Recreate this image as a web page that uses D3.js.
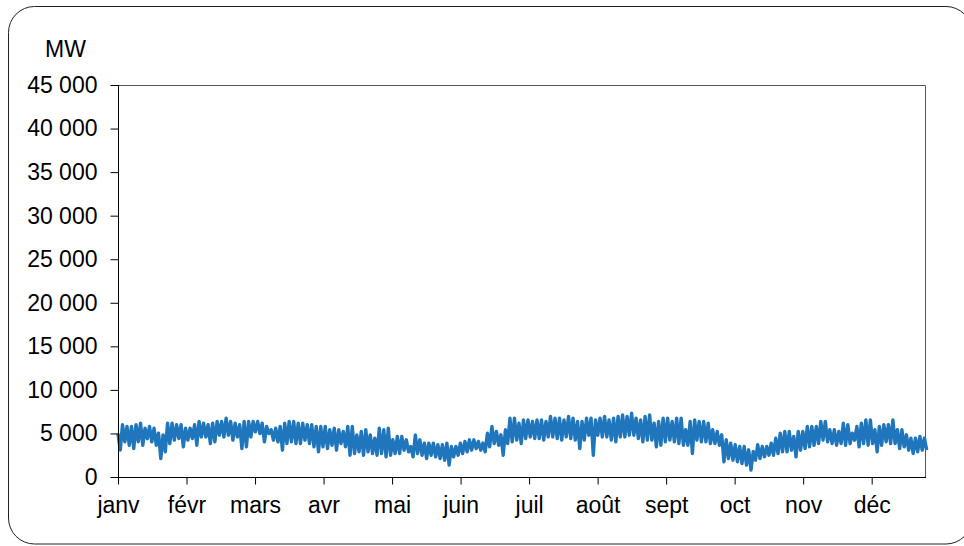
<!DOCTYPE html>
<html>
<head>
<meta charset="utf-8">
<script src="https://cdn.jsdelivr.net/npm/d3@7/dist/d3.min.js"></script>
<style>
  html, body { margin: 0; padding: 0; background: #fff; }
  svg { display: block; }
  text { font-family: "Liberation Sans", Arial, sans-serif; fill: #000; }
</style>
</head>
<body>
<svg id="chart" width="964" height="546"></svg>
<script>
// Month tick labels
const months = ["janv", "févr", "mars", "avr", "mai", "juin", "juil", "août", "sept", "oct", "nov", "déc"];
// Y tick values (MW)
const yTicks = [0, 5000, 10000, 15000, 20000, 25000, 30000, 35000, 40000, 45000];
const unitLabel = "MW";
// Series: upper and lower excursions of the load, one pair every 2 days (MW)
const hiMW = [
  5000, 6000, 5800, 5800, 6000, 6180, 5600, 5800, 5600, 5030, 4840, 6180, 6180, 6000, 6000,
  5600, 5600, 6000, 6370, 6180, 6000, 6180, 6370, 6370, 6750, 6370, 6180, 6000, 6370, 6370,
  6370, 6370, 6180, 5800, 5420, 5600, 5800, 6180, 6370, 6370, 6180, 6180, 6000, 6000, 5800,
  5800, 5800, 5420, 5600, 5420, 5230, 5800, 5800, 4840, 5230, 5420, 4840, 4460, 5600, 5420,
  5600, 4270, 4650, 4650, 4270, 3500, 4840, 4270, 3890, 3890, 3890, 3700, 3700, 3890, 3500,
  3500, 3890, 4080, 4270, 4270, 4080, 3890, 5030, 5800, 5230, 4840, 5420, 6750, 6750, 6180,
  6560, 6560, 6370, 6560, 6560, 6370, 6940, 6750, 6750, 6560, 6940, 6750, 6370, 6370, 6750,
  6750, 6560, 6750, 6940, 6560, 6750, 6940, 7130, 6940, 7330, 6750, 6560, 6940, 7130, 6180,
  6370, 6750, 6750, 6370, 6750, 6750, 5420, 6370, 6560, 6370, 6370, 6180, 5420, 5230, 4840,
  4270, 3890, 3700, 3500, 3500, 3120, 2930, 3700, 3500, 3500, 3890, 4460, 5030, 5230, 5230,
  4650, 5230, 5230, 5800, 5800, 5800, 6370, 6370, 5420, 5420, 5230, 6180, 6000, 5030, 5800,
  6180, 6560, 6560, 5420, 5800, 6000, 6000, 6560, 5420, 5420, 4840, 4460, 4460, 4650, 4460
];
const loMW = [
  3100, 4030, 3650, 3270, 4030, 3650, 4400, 4030, 3650, 2120, 2890, 3840, 4230, 4420, 3460,
  4230, 4420, 3650, 4600, 4600, 3840, 4030, 4800, 4600, 4800, 4230, 4600, 3270, 3460, 4600,
  5180, 4990, 4030, 4990, 4230, 4030, 3080, 3840, 4030, 3840, 3840, 4230, 3840, 3460, 2890,
  3460, 3270, 3650, 3080, 3840, 3460, 2500, 2700, 2890, 2500, 2890, 2700, 2500, 2700, 2310,
  2500, 2700, 2700, 3080, 2890, 2310, 2700, 2500, 2120, 2500, 2310, 2120, 1930, 1360, 2310,
  2500, 2700, 2890, 3080, 3270, 3080, 2890, 3460, 3840, 3650, 2500, 3840, 4030, 4230, 3840,
  4420, 4600, 4420, 4420, 4230, 4600, 4600, 4420, 4230, 4600, 4420, 4230, 3270, 4230, 4800,
  2500, 4800, 4600, 4600, 4230, 4030, 4600, 4600, 4800, 4800, 4420, 4030, 4230, 4230, 3460,
  3650, 4030, 4230, 4030, 3840, 3650, 3650, 2700, 4230, 4030, 4030, 3840, 3840, 3650, 1740,
  2120, 1930, 1740, 1550, 1360, 790, 1930, 2120, 2310, 2500, 2500, 2700, 2890, 2890, 3080,
  2310, 3080, 3270, 3460, 3650, 3840, 4230, 4030, 3840, 3650, 3840, 3650, 3840, 4230, 3460,
  3840, 3650, 3840, 2890, 3650, 4030, 3840, 3840, 3270, 3460, 3080, 2700, 2890, 3080, 3080
];
const daysPerStep = 2;
const daysPerMonth = 365 / 12;
const xEndDays = 358.7;
const FS = 23;

const svg = d3.select("#chart");

// outer rounded frame
svg.append("rect")
  .attr("x", 8.5).attr("y", 6.5)
  .attr("width", 963.5).attr("height", 537.5)
  .attr("rx", 26).attr("ry", 26)
  .attr("fill", "none").attr("stroke", "#222").attr("stroke-width", 1);

const mLeft = 118, mRight = 926, mTop = 85, mBottom = 477;

const x = d3.scaleLinear().domain([0, xEndDays]).range([mLeft, mRight]);
const y = d3.scaleLinear().domain([0, 45000]).range([mBottom, mTop]);

// plot frame (top and right)
svg.append("path")
  .attr("d", `M${mLeft},${mTop + 0.5}H${mRight - 0.5}V${mBottom}`)
  .attr("fill", "none").attr("stroke", "#555").attr("stroke-width", 1);

// data line: zigzag between upper and lower values
const pts = [];
hiMW.forEach((h, i) => {
  const d0 = i * daysPerStep;
  pts.push([d0, h]);
  pts.push([d0 + daysPerStep / 2, loMW[i]]);
});
const line = d3.line().x(d => x(d[0])).y(d => y(d[1]));
svg.append("path")
  .datum(pts)
  .attr("d", line)
  .attr("fill", "none")
  .attr("stroke", "#1f76bc")
  .attr("stroke-width", 3.4)
  .attr("stroke-linejoin", "round");

// y axis
const fmt = v => v === 0 ? "0" : d3.format(",")(v).replace(/,/g, " ");
const yAxis = d3.axisLeft(y).tickValues(yTicks).tickFormat(fmt).tickSize(8).tickPadding(13);
const gy = svg.append("g").attr("transform", `translate(${mLeft + 0.5},0)`).call(yAxis);
gy.select(".domain").attr("stroke", "#000").attr("d", `M0,${mTop}V${mBottom}`);
gy.selectAll(".tick line").attr("stroke", "#000");
gy.selectAll(".tick text")
  .attr("font-size", FS)
  .attr("font-family", "Liberation Sans, Arial, sans-serif")
  .attr("fill", "#000");

// x axis
const monthTicks = months.map((m, i) => i * daysPerMonth);
const xAxis = d3.axisBottom(x).tickValues(monthTicks)
  .tickFormat((d, i) => months[i]).tickSize(7).tickPadding(12);
const gx = svg.append("g").attr("transform", `translate(0,${mBottom + 0.5})`).call(xAxis);
gx.select(".domain").attr("stroke", "#000").attr("d", `M${mLeft},0H${mRight}`);
gx.selectAll(".tick line").attr("stroke", "#000");
gx.selectAll(".tick text")
  .attr("font-size", FS)
  .attr("font-family", "Liberation Sans, Arial, sans-serif")
  .attr("fill", "#000");

// unit label
svg.append("text")
  .attr("x", 65.5).attr("y", 56.5)
  .attr("text-anchor", "middle")
  .attr("font-size", FS)
  .text(unitLabel);
</script>
</body>
</html>
